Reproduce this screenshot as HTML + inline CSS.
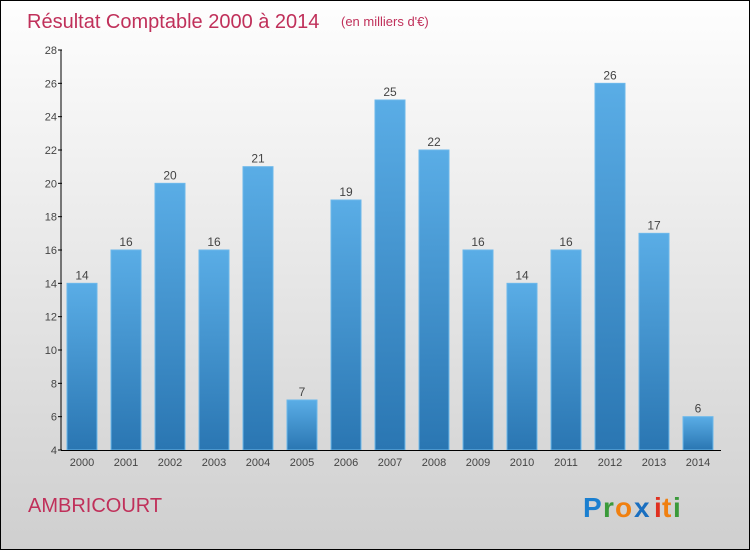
<!DOCTYPE html>
<html><head><meta charset="utf-8"><style>
body{margin:0;width:750px;height:550px;overflow:hidden}
#c{position:absolute;left:0;top:0;width:748px;height:548px;border:1px solid #000;background:linear-gradient(#fefefe,#f0f0f0 30%,#cfcfcf);font-family:"Liberation Sans",sans-serif}
</style></head><body>
<div id="c">
<svg width="750" height="550" style="position:absolute;left:-1px;top:-1px">
<defs><linearGradient id="g" x1="0" y1="0" x2="0" y2="1"><stop offset="0" stop-color="#5aade6"/><stop offset="1" stop-color="#2a76b2"/></linearGradient></defs>
<text x="27" y="28" font-size="20" fill="#c0305a">Résultat Comptable 2000 à 2014</text>
<text x="341" y="26" font-size="13" fill="#c0305a">(en milliers d'€)</text>
<text x="28" y="512" font-size="20" fill="#c0305a">AMBRICOURT</text>
<g font-size="28" font-weight="bold" font-family="Liberation Sans,sans-serif">
<text x="583" y="517" fill="#1a7fd0">P</text><text x="603" y="517" fill="#3a9a3a">r</text><text x="615" y="517" fill="#f08010">o</text><text x="634" y="517" fill="#1a6fc0">x</text><text x="654" y="517" fill="#e03020">i</text><text x="662" y="517" fill="#f08010">t</text><text x="673" y="517" fill="#3a9a3a">i</text></g>
<g id="plot"></g>
</svg>
</div>
<script>
const years=["2000","2001","2002","2003","2004","2005","2006","2007","2008","2009","2010","2011","2012","2013","2014"];
const values=[14,16,20,16,21,7,19,25,22,16,14,16,26,17,6];
const ticks=[4,6,8,10,12,14,16,18,20,22,24,26,28];
const NS="http://www.w3.org/2000/svg",p=document.getElementById('plot');
const y=v=>450-(v-4)*400/24, x=i=>82+i*44;
function mk(t,a,txt){const e=document.createElementNS(NS,t);for(const k in a)e.setAttribute(k,a[k]);if(txt!=null)e.textContent=txt;p.appendChild(e);return e;}
values.forEach((v,i)=>{
 const r=mk('rect',{x:x(i)-15,y:y(v),width:30,height:450-y(v),fill:'url(#g)',stroke:'#6cb8ea','stroke-width':1});
 
 
 const l=mk('text',{x:x(i),y:y(v)-4,'text-anchor':'middle','font-size':12,fill:'#444'},v);
 
 
 const t=mk('text',{x:x(i),y:466,'text-anchor':'middle','font-size':11,fill:'#444'},years[i]);
 
 
});
ticks.forEach(v=>{
 mk('line',{x1:58,x2:62,y1:y(v),y2:y(v),stroke:'#000'});
 const t=mk('text',{x:57,y:y(v)+4,'text-anchor':'end','font-size':11,fill:'#444'},v);
 
 
});
const ya=mk('line',{x1:61,x2:61,y1:50,y2:450,stroke:'#000'});


const xa=mk('line',{x1:61,x2:721,y1:450.5,y2:450.5,stroke:'#000'});


</script>
</body></html>
